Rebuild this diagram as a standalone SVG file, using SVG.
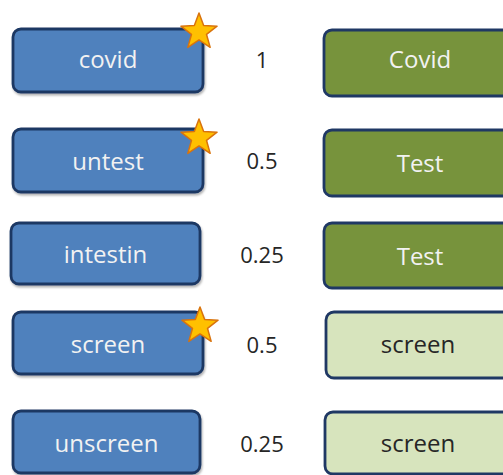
<svg xmlns="http://www.w3.org/2000/svg" width="503" height="475" viewBox="0 0 503 475">
<style>
.blue{fill:#4f81bd;stroke:#1f3864;stroke-width:2.8}
.green{fill:#77933c;stroke:#1f3864;stroke-width:2.8}
.light{fill:#d7e4bd;stroke:#1f3864;stroke-width:2.8}
.lbl{font-family:"Open Sans","Noto Sans",sans-serif;font-size:24px;text-anchor:middle}
.wt{fill:#f2f2f2}
.dk{fill:#262626}
.num{font-family:"Open Sans","Noto Sans",sans-serif;font-size:22px;text-anchor:middle;fill:#262626}
.star{fill:#ffc000;stroke:#d9730d;stroke-width:1.5;stroke-linejoin:round}
</style>
<defs>
<filter id="sh" x="-10%" y="-10%" width="120%" height="130%"><feDropShadow dx="1" dy="2" stdDeviation="1.2" flood-color="#000" flood-opacity="0.3"/></filter>
<path id="st" d="M0,-19 L4.65,-6.4 L18.07,-5.87 L7.53,2.45 L11.17,15.37 L0,7.9 L-11.17,15.37 L-7.53,2.45 L-18.07,-5.87 L-4.65,-6.4 Z"/>
</defs>
<g id="connectors"/>
<g id="covid">
<rect class="blue" x="13" y="29" width="190" height="63" rx="8" filter="url(#sh)"/>
<text class="lbl wt" x="108" y="68">covid</text>
<use href="#st" class="star" x="199" y="32"/>
</g>
<g id="untest">
<rect class="blue" x="13" y="129" width="190" height="63" rx="8" filter="url(#sh)"/>
<text class="lbl wt" x="108" y="170">untest</text>
<use href="#st" class="star" x="199" y="138"/>
</g>
<g id="intestin">
<rect class="blue" x="11" y="223" width="189" height="61" rx="8" filter="url(#sh)"/>
<text class="lbl wt" x="105.5" y="263">intestin</text>
</g>
<g id="screen">
<rect class="blue" x="13" y="312" width="190" height="62" rx="8" filter="url(#sh)"/>
<text class="lbl wt" x="108" y="353">screen</text>
<use href="#st" class="star" x="200" y="326"/>
</g>
<g id="unscreen">
<rect class="blue" x="13" y="411" width="187" height="62" rx="8" filter="url(#sh)"/>
<text class="lbl wt" x="106.5" y="452">unscreen</text>
</g>
<g id="w1"><text class="num" x="262" y="68">1</text></g>
<g id="w2"><text class="num" x="262" y="169">0.5</text></g>
<g id="w3"><text class="num" x="262" y="263">0.25</text></g>
<g id="w4"><text class="num" x="262" y="353">0.5</text></g>
<g id="w5"><text class="num" x="262" y="452">0.25</text></g>
<g id="Covid">
<rect class="green" x="324" y="30" width="192" height="66" rx="8"/>
<text class="lbl wt" x="420" y="68">Covid</text>
</g>
<g id="Test1">
<rect class="green" x="324" y="130" width="192" height="66" rx="8"/>
<text class="lbl wt" x="420" y="172">Test</text>
</g>
<g id="Test2">
<rect class="green" x="324" y="223" width="192" height="65" rx="8"/>
<text class="lbl wt" x="420" y="265">Test</text>
</g>
<g id="screen1">
<rect class="light" x="326" y="312" width="190" height="66" rx="8"/>
<text class="lbl dk" x="418" y="353">screen</text>
</g>
<g id="screen2">
<rect class="light" x="325" y="412" width="190" height="62" rx="8"/>
<text class="lbl dk" x="418" y="452">screen</text>
</g>
</svg>
